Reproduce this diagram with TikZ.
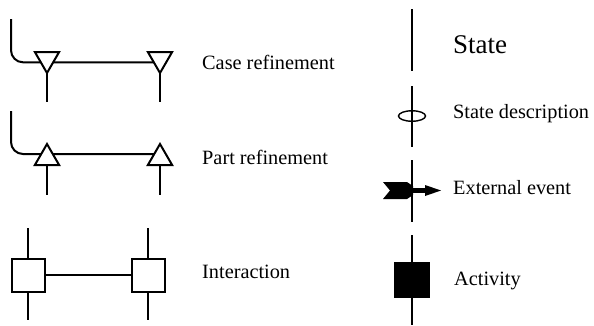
\documentclass[tikz,border=0pt]{standalone}
\usepackage{fontspec}
\setmainfont{Liberation Serif}
\usetikzlibrary{shapes.geometric,backgrounds}

\tikzset{
  line/.style={line width=2pt},
  trishape/.style={draw, fill=white, line width=2pt, regular polygon,
    regular polygon sides=3, minimum size=28pt, inner sep=0pt, outer sep=0pt},
  downtri/.style={trishape, shape border rotate=180},
  uptri/.style={trishape},
  port/.style={draw, fill=white, line width=2pt, rectangle,
    minimum size=33pt, inner sep=0pt, outer sep=0pt},
  activity/.style={draw, fill=black, line width=1pt, rectangle,
    minimum size=35pt, inner sep=0pt},
  statedesc/.style={draw, ellipse, line width=1.4pt, minimum width=27pt,
    minimum height=10.5pt, inner sep=0pt},
  label/.style={anchor=base west, inner sep=0pt, font=\fontsize{20.3}{24}\selectfont},
  biglabel/.style={anchor=base west, inner sep=0pt, font=\fontsize{27}{32}\selectfont}
}

\begin{document}
\begin{tikzpicture}[x=1pt, y=-1pt]
  \useasboundingbox (0,0) rectangle (594,325);

  % ---------- Case refinement ----------
  \node[downtri] (ca) at (47,59) {};
  \node[downtri] (cb) at (160,59) {};
  \coordinate (cin) at (11,19);
  \coordinate (caout) at (47,102);
  \coordinate (cbout) at (160,102);
  \coordinate (cam) at ([yshift=-3.3pt]ca.center);
  \coordinate (cbm) at ([yshift=-3.3pt]cb.center);
  \begin{scope}[on background layer]
    \draw[line, rounded corners=12pt] (cin) |- (cam) -- (cbm);
    \draw[line] (ca.center) -- (caout);
    \draw[line] (cb.center) -- (cbout);
  \end{scope}
  \node[label] (lcase) at (202,69) {Case refinement};

  % ---------- Part refinement ----------
  \node[uptri] (pa) at (47,158) {};
  \node[uptri] (pb) at (160,158) {};
  \coordinate (pin) at (11,111);
  \coordinate (paout) at (47,195);
  \coordinate (pbout) at (160,195);
  \coordinate (pam) at ([yshift=4pt]pa.center);
  \coordinate (pbm) at ([yshift=4pt]pb.center);
  \begin{scope}[on background layer]
    \draw[line, rounded corners=12pt] (pin) |- (pam) -- (pbm);
    \draw[line] (pa.center) -- (paout);
    \draw[line] (pb.center) -- (pbout);
  \end{scope}
  \node[label] (lpart) at (202,164) {Part refinement};

  % ---------- Interaction ----------
  \node[port] (ia) at (28,275) {};
  \node[port] (ib) at (148,275) {};
  \coordinate (iatop) at (28,228);
  \coordinate (iabot) at (28,320);
  \coordinate (ibtop) at (148,228);
  \coordinate (ibbot) at (148,320);
  \draw[line] (iatop) -- (ia.north);
  \draw[line] (ia.south) -- (iabot);
  \draw[line] (ibtop) -- (ib.north);
  \draw[line] (ib.south) -- (ibbot);
  \draw[line] (ia.east) -- (ib.west);
  \node[label] (linter) at (202,278) {Interaction};

  % ---------- State ----------
  \coordinate (s1) at (412,9);
  \coordinate (s2) at (412,71);
  \draw[line] (s1) -- (s2);
  \node[biglabel] (lstate) at (453,53) {State};

  % ---------- State description ----------
  \coordinate (d1) at (412,86);
  \coordinate (d2) at (412,147);
  \node[statedesc] (desc) at (412,116) {};
  \draw[line] (d1) -- (d2);
  \node[label] (ldesc) at (453,118) {State description};

  % ---------- External event ----------
  \coordinate (e1) at (412,160);
  \coordinate (e2) at (412,222);
  \draw[line] (e1) -- (e2);
  \fill (383,182) -- (407,182) -- (413,186) -- (413,195) -- (407,199)
        -- (383,199) -- (390,190.5) -- cycle;
  \fill (412,188) rectangle (426,193);
  \fill (425,185) -- (441,190.5) -- (425,196) -- cycle;
  \node[label] (levent) at (453,194) {External event};

  % ---------- Activity ----------
  \coordinate (a1) at (412,235);
  \coordinate (a2) at (412,325);
  \draw[line] (a1) -- (a2);
  \node[activity] (act) at (412,280) {};
  \node[label] (lact) at (454,285) {Activity};
\end{tikzpicture}
\end{document}
